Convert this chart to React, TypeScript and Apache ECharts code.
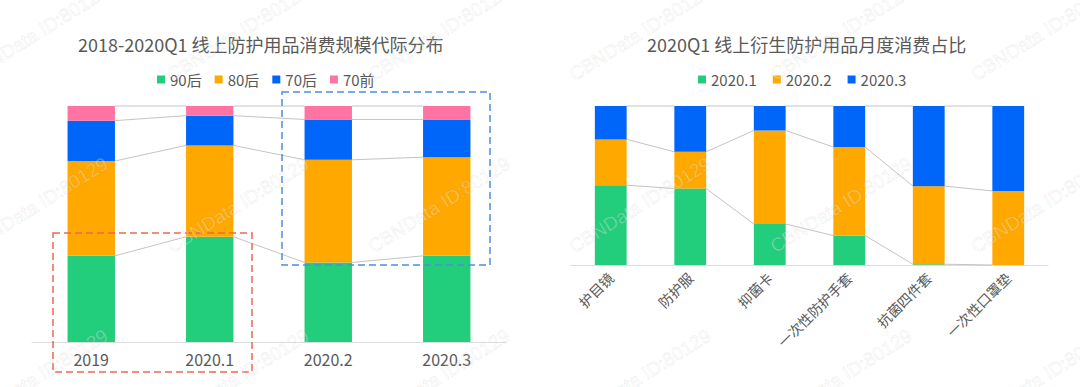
import React, { useEffect, useRef } from "react";
import * as echarts from "echarts";

const leftCategories = ["2019", "2020.1", "2020.2", "2020.3"];
const gen90 = [36.5, 44.6, 33.7, 36.5];
const gen80 = [40.2, 38.7, 43.5, 41.8];
const gen70 = [17.1, 12.6, 17.1, 16.0];
const genPre70 = [6.2, 4.1, 5.7, 5.7];

const rightCategories = ["护目镜", "防护服", "抑菌卡", "一次性防护手套", "抗菌四件套", "一次性口罩垫"];
const m2020_1 = [50.2, 48.1, 25.8, 18.5, 0.5, 0];
const m2020_2 = [28.8, 23.1, 58.8, 55.7, 49.1, 46.6];
const m2020_3 = [21.0, 28.8, 15.4, 25.8, 50.4, 53.4];

const leftTitle = "2018-2020Q1 线上防护用品消费规模代际分布";
const rightTitle = "2020Q1 线上衍生防护用品月度消费占比";
const watermark = "CBNData ID:80129";

const GREEN = "#22cd7b";
const ORANGE = "#ffa800";
const BLUE = "#0066fa";
const PINK = "#ff74a3";
const FONT = "'Noto Sans CJK SC', 'Noto Sans', sans-serif";

function cumulative(arrays: number[][]): number[][] {
  const n = arrays[0].length;
  const out: number[][] = [];
  const run = new Array(n).fill(0);
  arrays.forEach((a) => {
    for (let i = 0; i < n; i++) run[i] += a[i];
    out.push(run.slice());
  });
  return out;
}

function connectorSeries(levels: number[][], n: number, axisIdx: number) {
  const data: number[][] = [];
  for (let i = 0; i < n - 1; i++) data.push([i, 0]);
  return {
    type: "custom",
    xAxisIndex: axisIdx,
    yAxisIndex: axisIdx,
    silent: true,
    clip: false,
    z: 1,
    data,
    encode: { x: 0, y: 1 },
    renderItem: (params: any, api: any) => {
      const i = params.dataIndex;
      const half = api.size([1, 0])[0] * 0.2;
      const children = levels.map((L) => {
        const p1 = api.coord([i, L[i]]);
        const p2 = api.coord([i + 1, L[i + 1]]);
        return {
          type: "line",
          shape: { x1: p1[0] + half, y1: p1[1], x2: p2[0] - half, y2: p2[1] },
          style: { stroke: "#c4c4c4", lineWidth: 1 },
        };
      });
      return { type: "group", children };
    },
  };
}

export default function App() {
  const ref = useRef<HTMLDivElement>(null);
  useEffect(() => {
    if (!ref.current) return;
    const chart = echarts.init(ref.current, undefined, { renderer: "svg" });

    const leftLevels = cumulative([gen90, gen80, gen70, genPre70]);
    const rightLevels = cumulative([m2020_1, m2020_2, m2020_3]);

    const wm: any[] = [];
    const ang = (32 * Math.PI) / 180;
    for (let r = 0; r < 3; r++) {
      for (let c = 0; c < 6; c++) {
        wm.push({
          type: "text",
          x: 37 + 201 * c,
          y: 33 + 172 * r,
          rotation: ang,
          z: 100,
          silent: true,
          style: {
            text: watermark,
            fontSize: 19,
            fontFamily: "Arial, 'Liberation Sans', sans-serif",
            fill: "rgba(255,255,255,0.3)",
            stroke: "rgba(0,0,0,0.07)",
            lineWidth: 1,
            align: "center",
            verticalAlign: "middle",
          },
        });
      }
    }

    const barCommon = { type: "bar", barWidth: "40%" };
    const legendCommon = {
      icon: "rect",
      itemWidth: 8,
      itemHeight: 8,
      itemTextGap: 2,
      padding: 0,
      top: 72,
      textStyle: { fontSize: 15, color: "#595959", fontFamily: FONT },
    };

    chart.setOption({
      animation: false,
      textStyle: { fontFamily: FONT },
      title: [
        {
          text: leftTitle,
          left: 78,
          top: 35,
          padding: 0,
          textStyle: { fontSize: 18, fontWeight: "normal", color: "#595959", fontFamily: FONT },
        },
        {
          text: rightTitle,
          left: 647,
          top: 35,
          padding: 0,
          textStyle: { fontSize: 18, fontWeight: "normal", color: "#595959", fontFamily: FONT },
        },
      ],
      legend: [
        { ...legendCommon, left: 157, itemGap: 13, data: ["90后", "80后", "70后", "70前"] },
        { ...legendCommon, left: 698, itemGap: 16, data: ["2020.1", "2020.2", "2020.3"] },
      ],
      grid: [
        { left: 32, right: 574, top: 106, bottom: 45, containLabel: false },
        { left: 571, right: 32, top: 106, bottom: 122, containLabel: false },
      ],
      xAxis: [
        {
          type: "category",
          gridIndex: 0,
          data: leftCategories,
          axisTick: { show: false },
          axisLine: { lineStyle: { color: "#dcdcdc" } },
          axisLabel: { color: "#595959", fontSize: 16, margin: 9, fontFamily: FONT },
        },
        {
          type: "category",
          gridIndex: 1,
          data: rightCategories,
          axisTick: { show: false },
          axisLine: { lineStyle: { color: "#dcdcdc" } },
          axisLabel: { color: "#595959", fontSize: 14, margin: 10, rotate: 45, interval: 0, fontFamily: FONT },
        },
      ],
      yAxis: [
        { type: "value", gridIndex: 0, min: 0, max: 100, show: false },
        { type: "value", gridIndex: 1, min: 0, max: 100, show: false },
      ],
      series: [
        { ...barCommon, name: "90后", stack: "L", xAxisIndex: 0, yAxisIndex: 0, data: gen90, itemStyle: { color: GREEN } },
        { ...barCommon, name: "80后", stack: "L", xAxisIndex: 0, yAxisIndex: 0, data: gen80, itemStyle: { color: ORANGE } },
        { ...barCommon, name: "70后", stack: "L", xAxisIndex: 0, yAxisIndex: 0, data: gen70, itemStyle: { color: BLUE } },
        { ...barCommon, name: "70前", stack: "L", xAxisIndex: 0, yAxisIndex: 0, data: genPre70, itemStyle: { color: PINK } },
        { ...barCommon, name: "2020.1", stack: "R", xAxisIndex: 1, yAxisIndex: 1, data: m2020_1, itemStyle: { color: GREEN } },
        { ...barCommon, name: "2020.2", stack: "R", xAxisIndex: 1, yAxisIndex: 1, data: m2020_2, itemStyle: { color: ORANGE } },
        { ...barCommon, name: "2020.3", stack: "R", xAxisIndex: 1, yAxisIndex: 1, data: m2020_3, itemStyle: { color: BLUE } },
        connectorSeries(leftLevels, leftCategories.length, 0),
        connectorSeries(rightLevels, rightCategories.length, 1),
      ],
      graphic: [
        {
          type: "rect",
          z: 50,
          silent: true,
          shape: { x: 53, y: 233, width: 199, height: 139 },
          style: { fill: "none", stroke: "#ea6a52", lineWidth: 1.5, lineDash: [7, 4] },
        },
        {
          type: "rect",
          z: 50,
          silent: true,
          shape: { x: 282, y: 92, width: 208, height: 173 },
          style: { fill: "none", stroke: "#4d8fe0", lineWidth: 1.5, lineDash: [7, 4] },
        },
        ...wm,
      ],
    } as any);

    return () => chart.dispose();
  }, []);

  return (
    <div
      ref={ref}
      style={{ position: "absolute", left: 0, top: 0, width: 1080, height: 387, background: "#fff" }}
    />
  );
}
